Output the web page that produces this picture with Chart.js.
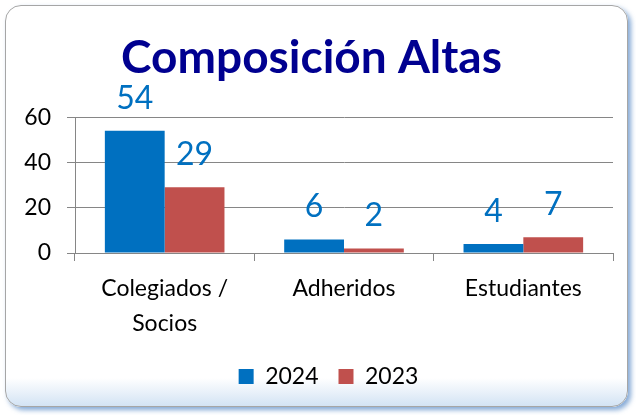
<!DOCTYPE html>
<html>
<head>
<meta charset="utf-8">
<script src="https://cdn.jsdelivr.net/npm/chart.js@4"></script>
<style>
  body { margin: 0; background: #fff; }
  #frame {
    position: absolute; left: 5px; top: 5px; width: 621px; height: 400px;
    border: 1px solid #a6a6a6; border-radius: 16px;
    box-shadow: 3px 3px 5px rgba(91, 140, 200, 0.75);
    background: linear-gradient(to bottom, #fff 0%, #fff 93%, #d3e3f4 100%);
  }
  #myChart { position: absolute; left: 0; top: 0; }
</style>
</head>
<body>
<div id="frame"></div>
<canvas id="myChart" width="636" height="415"></canvas>
<script>
// Data
const categories = [["Colegiados /", "Socios"], "Adheridos", "Estudiantes"];
const seriesNames = ["2024", "2023"];
const values2024 = [54, 6, 4];
const values2023 = [29, 2, 7];
const yTicks = [0, 20, 40, 60];

Chart.defaults.font.family = "Lato";
Chart.defaults.color = "#000";

// Draw the value above each bar, all in blue like the original
const valueLabels = {
  id: "valueLabels",
  afterDatasetsDraw(chart) {
    const ctx = chart.ctx;
    ctx.save();
    ctx.font = "32px Lato";
    ctx.fillStyle = "#0070C0";
    ctx.textAlign = "center";
    ctx.textBaseline = "alphabetic";
    chart.data.datasets.forEach((ds, i) => {
      chart.getDatasetMeta(i).data.forEach((bar, j) => {
        ctx.fillText(ds.data[j], bar.x, bar.y - 22);
      });
    });
    ctx.restore();
  },
};

// The legend sits a bit right of centre in the original
const legendShift = {
  id: "legendShift",
  afterLayout(chart) {
    chart.legend.left += 17;
    chart.legend.right += 17;
  },
};

const ctx = document.getElementById("myChart").getContext("2d");
const chart = new Chart(ctx, {
  type: "bar",
  data: {
    labels: categories,
    datasets: [
      {
        label: seriesNames[0],
        data: values2024,
        backgroundColor: "#0070C0",
        barPercentage: 1,
        categoryPercentage: 0.667,
      },
      {
        label: seriesNames[1],
        data: values2023,
        backgroundColor: "#C0504D",
        barPercentage: 1,
        categoryPercentage: 0.667,
      },
    ],
  },
  options: {
    responsive: false,
    animation: false,
    devicePixelRatio: 1,
    layout: { padding: { left: 10, right: 23, top: 0, bottom: 17 } },
    plugins: {
      title: {
        display: true,
        text: "Composición Altas",
        color: "#000090",
        font: { size: 46, weight: "bold" },
        padding: { top: 31, bottom: 31 },
      },
      legend: {
        position: "bottom",
        labels: {
          boxWidth: 15,
          boxHeight: 15,
          padding: 20,
          font: { size: 23 },
        },
      },
      tooltip: { enabled: false },
    },
    scales: {
      x: {
        grid: {
          offset: true,
          drawOnChartArea: false,
          color: "#868686",
          tickLength: 8,
        },
        border: { color: "#868686" },
        ticks: { font: { size: 23, lineHeight: 1.52 }, padding: 10 },
        afterFit: (scale) => { scale.height = 92; },
      },
      y: {
        min: 0,
        max: 60,
        afterBuildTicks: (scale) => {
          scale.ticks = yTicks.map((v) => ({ value: v }));
        },
        grid: { color: "#868686", tickLength: 8 },
        border: { color: "#868686" },
        ticks: { font: { size: 23 }, padding: 16 },
        afterFit: (scale) => { scale.width = 65; },
      },
    },
  },
  plugins: [valueLabels, legendShift],
});
</script>
</body>
</html>
